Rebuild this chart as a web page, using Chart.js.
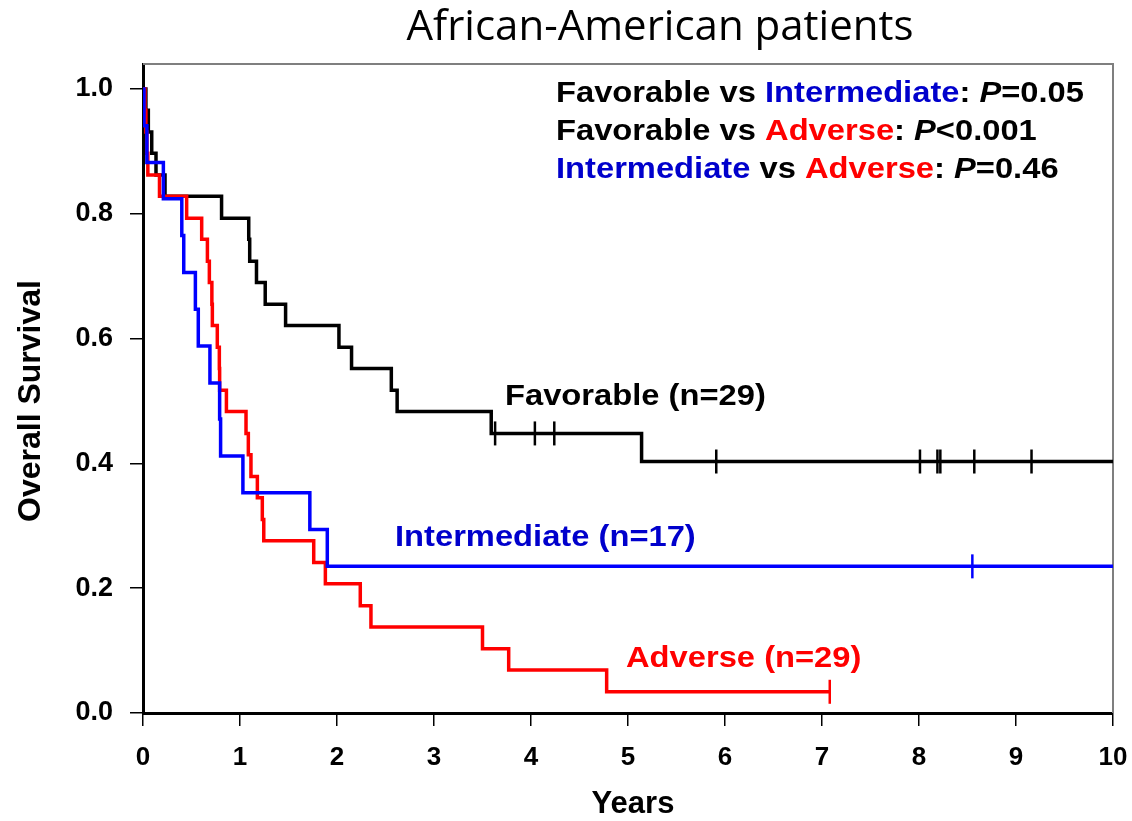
<!DOCTYPE html>
<html>
<head>
<meta charset="utf-8">
<title>African-American patients</title>
<script src="https://cdn.jsdelivr.net/npm/chart.js@4.4.0/dist/chart.umd.min.js"></script>
<style>
	html, body { margin: 0; padding: 0; background: #ffffff; }
	#wrap { width: 1132px; height: 821px; }
</style>
</head>
<body>
<div id="wrap"><canvas id="kmChart" width="1132" height="821"></canvas></div>
<script>
// Kaplan-Meier curves, values (time in years, survival after each drop)
var favTimes = [0, 0.03, 0.055, 0.09, 0.134, 0.227, 0.81, 1.09, 1.10, 1.17, 1.26, 1.47, 2.02, 2.15, 2.56, 2.62, 3.59, 5.14];
var favSurv = [1.0, 0.966, 0.931, 0.897, 0.862, 0.828, 0.793, 0.759, 0.724, 0.690, 0.655, 0.621, 0.586, 0.552, 0.517, 0.483, 0.448, 0.403];
var favCensor = [3.63, 4.04, 4.24, 5.91, 8.01, 8.19, 8.22, 8.57, 9.16];
var favEnd = 10;

var intTimes = [0, 0.01, 0.04, 0.21, 0.40, 0.42, 0.54, 0.57, 0.69, 0.79, 0.80, 1.03, 1.72, 1.90];
var intSurv = [1.0, 0.941, 0.882, 0.824, 0.765, 0.706, 0.647, 0.588, 0.529, 0.471, 0.412, 0.353, 0.294, 0.235];
var intCensor = [8.55];
var intEnd = 10;

var advTimes = [0, 0.02, 0.03, 0.04, 0.05, 0.17, 0.45, 0.605, 0.664, 0.684, 0.71, 0.715, 0.766, 0.787, 0.79, 0.86,
	1.062, 1.086, 1.113, 1.179, 1.23, 1.245, 1.76, 1.88, 2.24, 2.35, 3.50, 3.77, 4.78];
var advSurv = [1.0, 0.966, 0.931, 0.897, 0.862, 0.828, 0.793, 0.759, 0.724, 0.690, 0.655, 0.621, 0.586, 0.552, 0.517, 0.483,
	0.448, 0.414, 0.379, 0.345, 0.310, 0.276, 0.241, 0.207, 0.172, 0.138, 0.103, 0.069, 0.034];
var advCensor = [7.08];
var advEnd = 7.08;

var xTicks = [0, 1, 2, 3, 4, 5, 6, 7, 8, 9, 10];
var yTicks = [0, 0.2, 0.4, 0.6, 0.8, 1.0];

var BLACK = "#000000";
var BLUE = "#0000ff";
var RED = "#ff0000";
var BLUE_TXT = "#0000cc";
var FONT = '"Liberation Sans", Arial, sans-serif';

function stepPoints(times, surv, end) {
	var pts = times.map(function (t, i) {
		return { x: t, y: surv[i] };
	});
	pts.push({ x: end, y: surv[surv.length - 1] });
	return pts;
}

function survAt(times, surv, t) {
	var s = surv[0];
	for (var i = 0; i < times.length; i++) {
		if (times[i] <= t) s = surv[i];
	}
	return s;
}

function censorPoints(times, surv, censor) {
	return censor.map(function (t) {
		return { x: t, y: survAt(times, surv, t) };
	});
}

function curve(label, data, color, order) {
	return {
		label: label,
		data: data,
		borderColor: color,
		borderWidth: 3.5,
		stepped: "before",
		pointRadius: 0,
		fill: false,
		order: order,
	};
}

function marks(label, data, color) {
	return {
		type: "scatter",
		label: label,
		data: data,
		showLine: false,
		pointStyle: "line",
		rotation: 90,
		pointRadius: 12,
		pointBorderWidth: 2.5,
		borderColor: color,
		backgroundColor: color,
		order: 0,
	};
}

function drawRich(ctx, parts, x, y, size, sx) {
	ctx.save();
	ctx.translate(x, y);
	ctx.scale(sx, 1);
	ctx.textBaseline = "middle";
	ctx.textAlign = "left";
	var cx = 0;
	parts.forEach(function (p) {
		ctx.font = (p.italic ? "italic " : "") + "bold " + size + "px " + FONT;
		ctx.fillStyle = p.color;
		ctx.fillText(p.text, cx, 0);
		cx += ctx.measureText(p.text).width;
	});
	ctx.restore();
}

var textPlugin = {
	id: "kmText",
	beforeDatasetsDraw: function (chart) {
		var ctx = chart.ctx;
		var a = chart.chartArea;
		ctx.save();
		ctx.strokeStyle = "#7f7f7f";
		ctx.lineWidth = 2;
		ctx.beginPath();
		ctx.moveTo(a.left, a.top);
		ctx.lineTo(a.right, a.top);
		ctx.lineTo(a.right, a.bottom);
		ctx.stroke();
		ctx.restore();
	},
	afterDraw: function (chart) {
		var ctx = chart.ctx;
		ctx.save();

		// title
		ctx.font = '42px "Open Sans", sans-serif';
		ctx.fillStyle = BLACK;
		ctx.textAlign = "center";
		ctx.textBaseline = "middle";
		ctx.fillText("African-American patients", 660, 28);

		// axis titles
		ctx.font = "bold 31px " + FONT;
		ctx.fillText("Years", 633, 804);
		ctx.font = "bold 32px " + FONT;
		ctx.save();
		ctx.translate(31, 401);
		ctx.rotate(-Math.PI / 2);
		ctx.fillText("Overall Survival", 0, 0);
		ctx.restore();
		ctx.restore();

		// p-values
		var sz = 30;
		var sx = 1.09;
		drawRich(ctx, [
			{ text: "Favorable vs ", color: BLACK },
			{ text: "Intermediate", color: BLUE_TXT },
			{ text: ": ", color: BLACK },
			{ text: "P", color: BLACK, italic: true },
			{ text: "=0.05", color: BLACK },
		], 556, 94, sz, sx);
		drawRich(ctx, [
			{ text: "Favorable vs ", color: BLACK },
			{ text: "Adverse", color: RED },
			{ text: ": ", color: BLACK },
			{ text: "P", color: BLACK, italic: true },
			{ text: "<0.001", color: BLACK },
		], 556, 132, sz, sx);
		drawRich(ctx, [
			{ text: "Intermediate", color: BLUE_TXT },
			{ text: " vs ", color: BLACK },
			{ text: "Adverse", color: RED },
			{ text: ": ", color: BLACK },
			{ text: "P", color: BLACK, italic: true },
			{ text: "=0.46", color: BLACK },
		], 556, 170, sz, sx);

		// curve labels
		drawRich(ctx, [{ text: "Favorable (n=29)", color: BLACK }], 505, 397, sz, sx);
		drawRich(ctx, [{ text: "Intermediate (n=17)", color: BLUE_TXT }], 395, 538, sz, sx);
		drawRich(ctx, [{ text: "Adverse (n=29)", color: RED }], 626, 659, sz, sx);
	},
};

var chartConfig = {
	type: "line",
	data: {
		datasets: [
			marks("fav censored", censorPoints(favTimes, favSurv, favCensor), BLACK),
			marks("int censored", censorPoints(intTimes, intSurv, intCensor), BLUE),
			marks("adv censored", censorPoints(advTimes, advSurv, advCensor), RED),
			curve("Intermediate", stepPoints(intTimes, intSurv, intEnd), BLUE, 1),
			curve("Adverse", stepPoints(advTimes, advSurv, advEnd), RED, 2),
			curve("Favorable", stepPoints(favTimes, favSurv, favEnd), BLACK, 3),
		],
	},
	options: {
		responsive: false,
		animation: false,
		devicePixelRatio: 1,
		layout: { autoPadding: false, padding: { top: 64, right: 19, left: 0, bottom: 0 } },
		plugins: {
			legend: { display: false },
			tooltip: { enabled: false },
		},
		scales: {
			x: {
				type: "linear",
				min: 0,
				max: 10,
				afterBuildTicks: function (scale) {
					scale.ticks = xTicks.map(function (v) { return { value: v }; });
				},
				afterFit: function (scale) {
					scale.height = 108;
					scale.paddingLeft = 0;
					scale.paddingRight = 0;
				},
				ticks: {
					color: BLACK,
					font: { family: FONT, size: 26, weight: "bold" },
					padding: 16,
					maxRotation: 0,
				},
				grid: {
					drawOnChartArea: false,
					tickLength: 13,
					color: BLACK,
					lineWidth: 1.5,
				},
				border: { color: BLACK, width: 3 },
			},
			y: {
				type: "linear",
				min: 0,
				max: 1.04,
				afterBuildTicks: function (scale) {
					scale.ticks = yTicks.map(function (v) { return { value: v }; });
				},
				afterFit: function (scale) { scale.width = 143; },
				ticks: {
					color: BLACK,
					font: { family: FONT, size: 27, weight: "bold" },
					padding: 17,
					callback: function (v) { return v.toFixed(1); },
				},
				grid: {
					drawOnChartArea: false,
					tickLength: 13,
					color: BLACK,
					lineWidth: 1.5,
				},
				border: { color: BLACK, width: 3 },
			},
		},
	},
	plugins: [textPlugin],
};

var chart = new Chart(document.getElementById("kmChart"), chartConfig);
</script>
</body>
</html>
